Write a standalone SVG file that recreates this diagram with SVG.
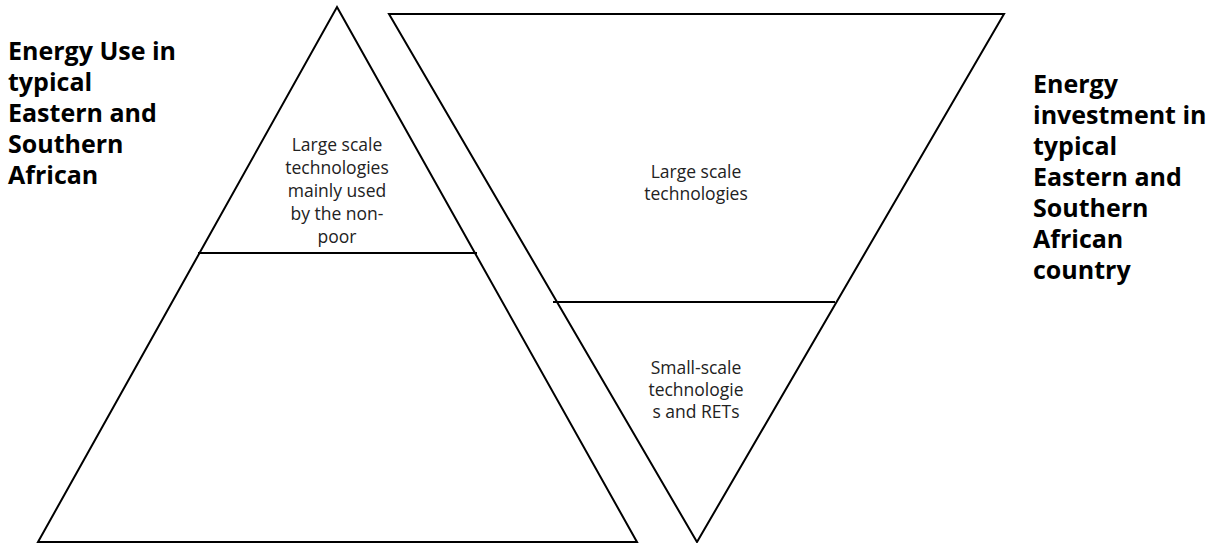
<svg xmlns="http://www.w3.org/2000/svg" width="1213" height="543" viewBox="0 0 1213 543">
<style>
.shape{fill:none;stroke:#000;stroke-width:2}
.title{font-family:"Open Sans","Noto Sans",sans-serif;font-weight:bold;font-size:25px;fill:#000}
.lbl{font-family:"Open Sans","Noto Sans",sans-serif;font-size:17.5px;fill:#222;text-anchor:middle}
</style>
<rect width="1213" height="543" fill="#fff"/>
<g id="pyramid-use">
<polygon class="shape" points="337,7 637,542 38,542"/>
<line class="shape" x1="198" y1="253" x2="477" y2="253"/>
<text class="lbl"><tspan x="337" y="151">Large scale</tspan><tspan x="337" y="174">technologies</tspan><tspan x="337" y="197">mainly used</tspan><tspan x="337" y="220">by the non-</tspan><tspan x="337" y="243">poor</tspan></text>
</g>
<g id="pyramid-investment">
<polygon class="shape" points="389,14 1004,14 697,542"/>
<line class="shape" x1="553" y1="302" x2="835" y2="302"/>
<text class="lbl"><tspan x="696" y="178">Large scale</tspan><tspan x="696" y="200">technologies</tspan></text>
<text class="lbl"><tspan x="696" y="374">Small-scale</tspan><tspan x="696" y="396">technologie</tspan><tspan x="696" y="418">s and RETs</tspan></text>
</g>
<g id="title-left">
<text class="title"><tspan x="8" y="60">Energy Use in</tspan><tspan x="8" y="91">typical</tspan><tspan x="8" y="122">Eastern and</tspan><tspan x="8" y="153">Southern</tspan><tspan x="8" y="184">African</tspan></text>
</g>
<g id="title-right">
<text class="title"><tspan x="1033" y="93">Energy</tspan><tspan x="1033" y="124">investment in</tspan><tspan x="1033" y="155">typical</tspan><tspan x="1033" y="186">Eastern and</tspan><tspan x="1033" y="217">Southern</tspan><tspan x="1033" y="248">African</tspan><tspan x="1033" y="279">country</tspan></text>
</g>
<g id="connectors"></g>
</svg>
